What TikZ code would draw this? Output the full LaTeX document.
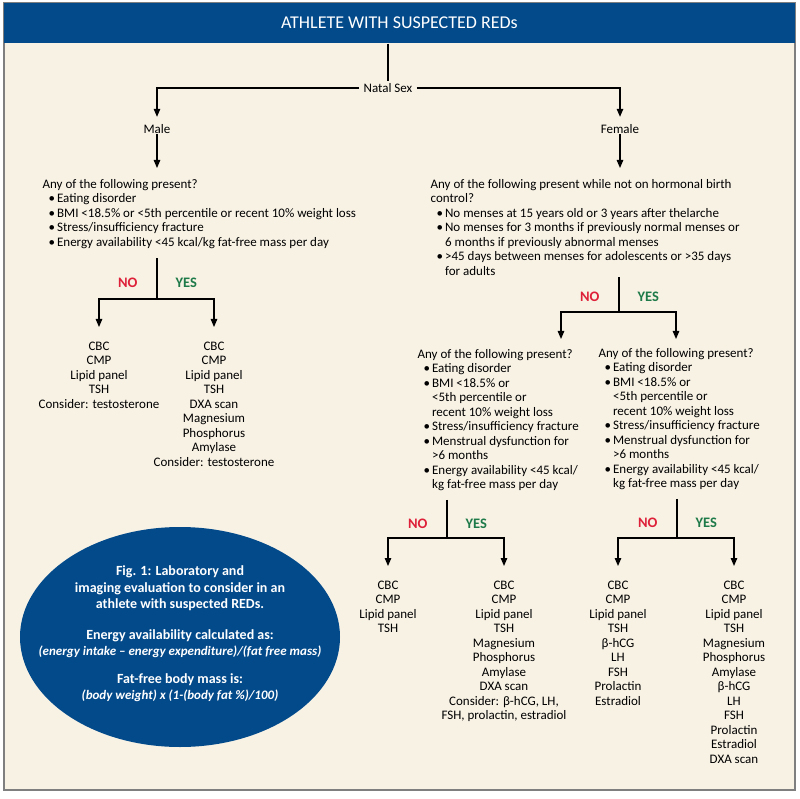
\documentclass[tikz,border=0pt]{standalone}
\usepackage{fontspec}
\setmainfont{Carlito}
\usetikzlibrary{arrows.meta, positioning, calc}
\definecolor{redsblue}{HTML}{034A8B}
\definecolor{cream}{HTML}{F8F2E5}
\definecolor{nored}{HTML}{DE2139}
\definecolor{yesgreen}{HTML}{1E7A48}
\definecolor{framegray}{HTML}{7F7F7F}
\newcommand{\bul}{\hspace*{6pt}\makebox[8.5pt][l]{\textbullet}}
\newcommand{\cont}{\hspace*{14.5pt}}

\begin{document}
\begin{tikzpicture}[
    x=1pt, y=-1pt,
    line width=1.2pt,
    font=\fontsize{13}{14.5}\selectfont,
    plain/.style={inner sep=0pt},
    question/.style={inner sep=0pt, outer ysep=4pt, align=left, anchor=north west},
    tests/.style={inner sep=0pt, outer ysep=8pt, align=center, anchor=north},
    nolbl/.style={inner sep=0pt, text=nored, font=\fontsize{14.5}{16}\selectfont\bfseries},
    yeslbl/.style={inner sep=0pt, text=yesgreen, font=\fontsize{14.5}{16}\selectfont\bfseries},
    arr/.style={-{Triangle[length=8pt, width=6.5pt]}, shorten >=7pt},
    arrline/.style={-{Triangle[length=8pt, width=6.5pt]}}
]
    % page, frame and title bar
    \useasboundingbox (0,0) rectangle (800,799);
    \fill[white] (0,0) rectangle (800,799);
    \draw[framegray, line width=1.2pt, fill=cream] (4,3) rectangle (795,790);
    \node[fill=redsblue, text=white, minimum width=791pt, minimum height=40pt, inner sep=0pt,
          font=\fontsize{18}{20}\selectfont] (title) at (399.5,23) {ATHLETE WITH SUSPECTED REDs};

    % natal sex split
    \node[plain, inner xsep=4pt, inner ysep=2pt] (natal) at (388,88) {Natal Sex};
    \node[plain] (male) at (157,129) {Male};
    \node[plain] (female) at (620,129) {Female};
    \draw (title.south -| natal) -- (natal.north);
    \draw[arr] (natal.west) -| (male);
    \draw[arr] (natal.east) -| (female);

    % male branch
    \node[question] (qmale) at (42,175) {Any of the following present?\\
        \bul Eating disorder\\
        \bul BMI <18.5\% or <5th percentile or recent 10\% weight loss\\
        \bul Stress/insufficiency fracture\\
        \bul Energy availability <45 kcal/kg fat-free mass per day};
    \draw[arr] (male) -- (male |- qmale.north);
    \coordinate (mbr) at (157,299);
    \draw ([yshift=-6pt]qmale.south -| mbr) -- node[nolbl, pos=.6, left=19pt] {NO}
        node[yeslbl, pos=.6, right=18pt] {YES} (mbr);
    \node[tests] (mno) at (99,334) {CBC\\CMP\\Lipid panel\\TSH\\Consider: testosterone};
    \node[tests] (myes) at (214,334) {CBC\\CMP\\Lipid panel\\TSH\\DXA scan\\Magnesium\\Phosphorus\\Amylase\\Consider: testosterone};
    \draw[arr] (mbr) -| (mno);
    \draw[arr] (mbr) -| (myes);

    % female branch
    \node[question] (qfem) at (430,175) {Any of the following present while not on hormonal birth\\
        control?\\
        \bul No menses at 15 years old or 3 years after thelarche\\
        \bul No menses for 3 months if previously normal menses or\\
        \cont 6 months if previously abnormal menses\\
        \bul >45 days between menses for adolescents or >35 days\\
        \cont for adults};
    \draw[arr] (female) -- (female |- qfem.north);
    \coordinate (fbr) at (619,312);
    \draw ([yshift=2pt]qfem.south -| fbr) -- node[nolbl, pos=.55, left=19pt] {NO}
        node[yeslbl, pos=.55, right=18pt] {YES} (fbr);
    \coordinate (fnoend) at (561,339);
    \coordinate (fyesend) at (676,339);
    \draw[arrline] (fbr) -| (fnoend);
    \draw[arrline] (fbr) -| (fyesend);

    % second questions
    \node[question] (qfno) at (417,345) {Any of the following present?\\
        \bul Eating disorder\\
        \bul BMI <18.5\% or\\
        \cont <5th percentile or\\
        \cont recent 10\% weight loss\\
        \bul Stress/insufficiency fracture\\
        \bul Menstrual dysfunction for\\
        \cont >6 months\\
        \bul Energy availability <45 kcal/\\
        \cont kg fat-free mass per day};
    \node[question] (qfyes) at (598,344) {Any of the following present?\\
        \bul Eating disorder\\
        \bul BMI <18.5\% or\\
        \cont <5th percentile or\\
        \cont recent 10\% weight loss\\
        \bul Stress/insufficiency fracture\\
        \bul Menstrual dysfunction for\\
        \cont >6 months\\
        \bul Energy availability <45 kcal/\\
        \cont kg fat-free mass per day};

    % no hormonal birth control, left
    \coordinate (lbr) at (447,538);
    \draw ([yshift=-5pt]qfno.south -| lbr) -- node[nolbl, pos=.62, left=19pt] {NO}
        node[yeslbl, pos=.62, right=18pt] {YES} (lbr);
    \node[tests] (lno) at (388,573) {CBC\\CMP\\Lipid panel\\TSH};
    \node[tests] (lyes) at (504,573) {CBC\\CMP\\Lipid panel\\TSH\\Magnesium\\Phosphorus\\Amylase\\DXA scan\\Consider: β-hCG, LH,\\FSH, prolactin, estradiol};
    \draw[arr] (lbr) -| (lno);
    \draw[arr] (lbr) -| (lyes);

    % right
    \coordinate (rbr) at (677,538);
    \draw ([yshift=-5pt]qfyes.south -| rbr) -- node[nolbl, pos=.62, left=19pt] {NO}
        node[yeslbl, pos=.62, right=18pt] {YES} (rbr);
    \node[tests] (rno) at (618,573) {CBC\\CMP\\Lipid panel\\TSH\\β-hCG\\LH\\FSH\\Prolactin\\Estradiol};
    \node[tests] (ryes) at (734,573) {CBC\\CMP\\Lipid panel\\TSH\\Magnesium\\Phosphorus\\Amylase\\β-hCG\\LH\\FSH\\Prolactin\\Estradiol\\DXA scan};
    \draw[arr] (rbr) -| (rno);
    \draw[arr] (rbr) -| (ryes);

    % figure note
    \fill[redsblue] (180,637) ellipse [x radius=160pt, y radius=110pt];
    \node[plain, text=white, align=center, font=\fontsize{14}{16.5}\selectfont\bfseries] (fig) at (180,634)
        {Fig. 1: Laboratory and\\imaging evaluation to consider in an\\athlete with suspected REDs.\\[14pt]
         Energy availability calculated as:\\{\fontsize{13}{16.5}\selectfont\itshape(energy intake -- energy expenditure)/(fat free mass)}\\[11pt]
         Fat-free body mass is:\\{\fontsize{13}{16.5}\selectfont\itshape(body weight) x (1-(body fat \%)/100)}};
\end{tikzpicture}
\end{document}
